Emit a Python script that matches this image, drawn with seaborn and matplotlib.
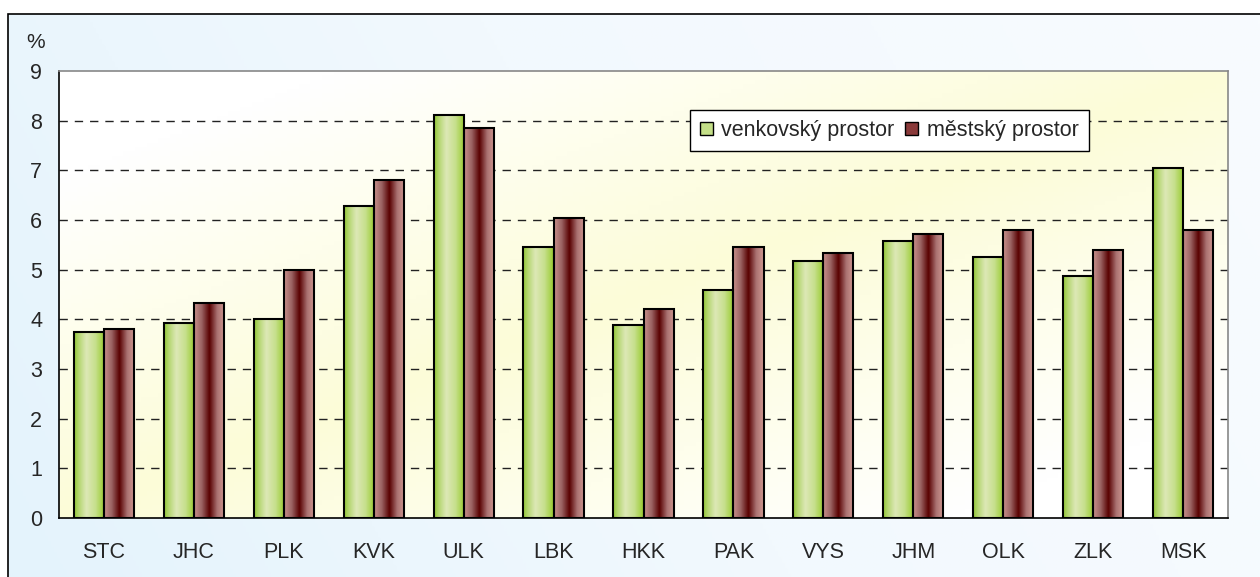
import numpy as np
import pandas as pd
import seaborn as sns
import matplotlib.pyplot as plt
from matplotlib.colors import LinearSegmentedColormap
from matplotlib.patches import Rectangle, Patch

kraje = ['STC', 'JHC', 'PLK', 'KVK', 'ULK', 'LBK', 'HKK', 'PAK', 'VYS', 'JHM', 'OLK', 'ZLK', 'MSK']
venkov = [3.75, 3.92, 4.00, 6.28, 8.12, 5.45, 3.88, 4.60, 5.17, 5.57, 5.25, 4.88, 7.05]
mesto = [3.80, 4.32, 5.00, 6.80, 7.85, 6.05, 4.20, 5.45, 5.33, 5.72, 5.80, 5.40, 5.80]
serie = ['venkovský prostor', 'městský prostor']

df = pd.DataFrame({
    'kraj': kraje * 2,
    'hodnota': venkov + mesto,
    'typ': [serie[0]] * len(kraje) + [serie[1]] * len(kraje),
})

sns.set_style('white')
plt.rcParams['font.family'] = ['Liberation Sans', 'DejaVu Sans']

fig = plt.figure(figsize=(12.6, 5.77), dpi=100)
fig.patch.set_facecolor('white')

# background gradient of the chart area (inside the frame)
bg = fig.add_axes([8 / 1260, 0, 1 - 8 / 1260, 1 - 14 / 577], zorder=-10)
bg.axis('off')
yy, xx = np.mgrid[0:1:200j, 0:1:400j]
t = np.clip(xx * 0.8 + (1 - yy) * 0.2, 0, 1)
bg_cmap = LinearSegmentedColormap.from_list('bg', ['#e4f3fc', '#f2f9fe', '#f8fbfe'])
bg.imshow(t, cmap=bg_cmap, aspect='auto', extent=[0, 1, 0, 1])
fig.patches.append(Rectangle((8 / 1260, -0.01), 1.0, 1 - 14 / 577 + 0.01,
                             transform=fig.transFigure, fill=False,
                             edgecolor='black', linewidth=1.2, zorder=5))

ax = fig.add_axes([59 / 1260, 1 - 518 / 577, (1228 - 59) / 1260, (518 - 71) / 577])

sns.barplot(data=df, x='kraj', y='hodnota', hue='typ', order=kraje, hue_order=serie,
            width=0.67, gap=0, saturation=1, palette=['#b8d878', '#8a3a3a'],
            edgecolor='black', linewidth=1.5, legend=False, ax=ax)

green = LinearSegmentedColormap.from_list('g', [(0, '#94c838'), (0.15, '#b4d670'),
                                                (0.4, '#dde8b6'), (0.7, '#c6df8c'),
                                                (1, '#98cc2e')])
maroon = LinearSegmentedColormap.from_list('m', [(0, '#c8908a'), (0.25, '#9a6262'),
                                                 (0.5, '#580000'), (0.75, '#a87070'),
                                                 (1, '#d29a92')])
grad = np.linspace(0, 1, 64).reshape(1, -1)
for cont, cm in zip(ax.containers, [green, maroon]):
    for bar in cont:
        x0, w, h = bar.get_x(), bar.get_width(), bar.get_height()
        ax.imshow(grad, cmap=cm, aspect='auto', extent=[x0, x0 + w, 0, h],
                  zorder=2, interpolation='bilinear')
        bar.set_facecolor('none')
        bar.set_zorder(3)

# plot area background: pale yellow band from lower left to upper right,
# white towards the upper left and lower right corners
py, px = np.mgrid[0:1:100j, 0:1:200j]
pt = np.clip(np.abs(px - py) * 1.3, 0, 1)
pa_cmap = LinearSegmentedColormap.from_list('pa', ['#fcfcd8', '#fefeec', '#ffffff'])
ax.imshow(pt, cmap=pa_cmap, aspect='auto', origin='lower',
          extent=[-0.5, len(kraje) - 0.5, 0, 9], zorder=0)

ax.set_xlim(-0.5, len(kraje) - 0.5)
ax.set_ylim(0, 9)
ax.set_yticks(range(0, 10))
ax.set_xticks(range(len(kraje)))
ax.set_xticks(np.arange(-0.5, len(kraje), 1), minor=True)
ax.tick_params(axis='x', which='major', length=0, pad=17, labelsize=15.5)
ax.tick_params(axis='x', which='minor', length=6, width=1, color='#555555', direction='out')
ax.tick_params(axis='y', length=6, width=1, color='#555555', direction='out', pad=6, labelsize=15.5)
ax.set_xlabel('')
ax.set_ylabel('')

for v in range(1, 9):
    ax.axhline(v, color='#222222', linestyle=(0, (6, 5)), linewidth=1, zorder=1)

for s in ['left', 'bottom']:
    ax.spines[s].set_color('black')
    ax.spines[s].set_linewidth(1.2)
for s in ['top', 'right']:
    ax.spines[s].set_color('#888888')
    ax.spines[s].set_linewidth(1.2)
for s in ax.spines.values():
    s.set_zorder(4)

fig.text(26 / 1260, 1 - 42 / 577, '%', fontsize=15, va='center', ha='left')

handles = [Patch(facecolor='#c4df88', edgecolor='black', linewidth=1),
           Patch(facecolor='#8a3a3a', edgecolor='black', linewidth=1)]
leg = ax.legend(handles, serie, loc='upper left', bbox_to_anchor=(0.54, 0.912),
                ncol=2, frameon=True, fancybox=False, fontsize=15.5,
                handlelength=0.6, handleheight=0.6, handletextpad=0.4,
                columnspacing=0.5, borderpad=0.45, borderaxespad=0)
leg.get_frame().set_edgecolor('black')
leg.get_frame().set_linewidth(1)
leg.get_frame().set_facecolor('white')
leg.get_frame().set_alpha(1)
leg.set_zorder(6)

fig.savefig('out.png', dpi=100)
